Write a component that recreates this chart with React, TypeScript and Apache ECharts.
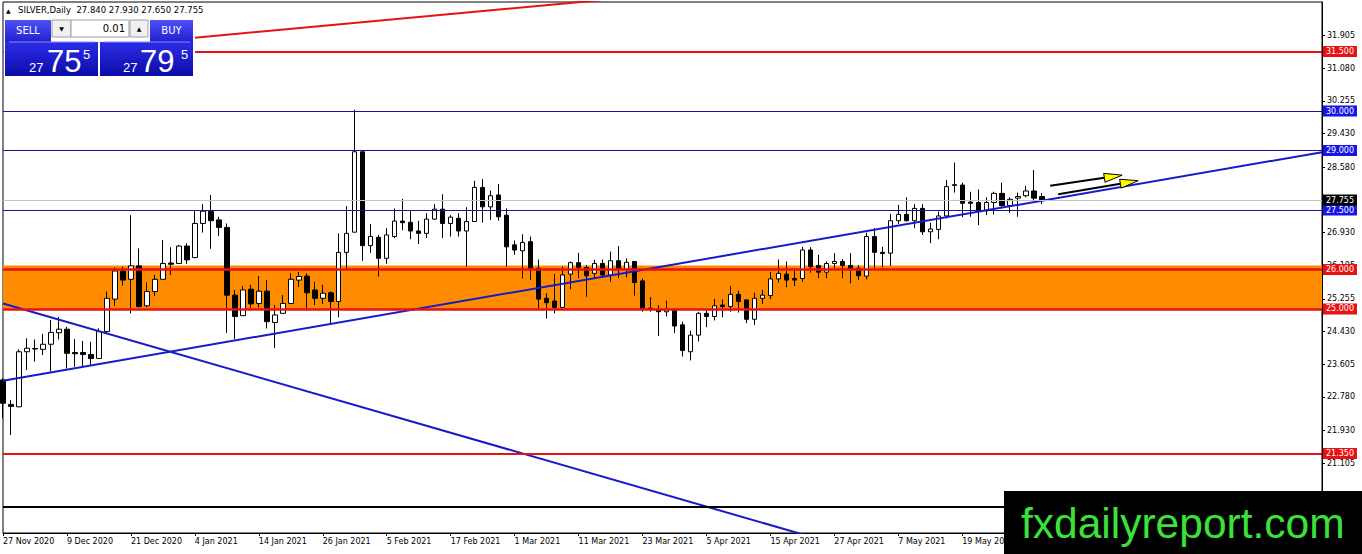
import React, { useEffect, useRef } from "react";
import * as echarts from "echarts";

// ---------- DATA ----------
// Date labels every 8 bars (later labels are hidden behind the watermark in the reference)
const xTickLabels = [
  "27 Nov 2020", "9 Dec 2020", "21 Dec 2020", "4 Jan 2021", "14 Jan 2021", "26 Jan 2021",
  "5 Feb 2021", "17 Feb 2021", "1 Mar 2021", "11 Mar 2021", "23 Mar 2021", "5 Apr 2021",
  "15 Apr 2021", "27 Apr 2021", "7 May 2021", "19 May 2021",
];
const barsPerTick = 8;
const slotCount = 166; // bars + empty right shift

const opens = [
  23.21, 22.59, 22.53, 23.92, 24.0, 23.98, 24.11, 24.4, 24.49, 23.9,
  23.9, 23.85, 23.75, 24.43, 25.25, 25.96, 25.75, 26.09, 25.08, 25.44,
  25.75, 26.16, 26.15, 26.59, 26.3, 27.16, 27.47, 27.25, 27.06, 25.35,
  24.83, 25.5, 25.14, 25.45, 24.66, 24.89, 25.14, 25.73, 25.83, 25.48,
  25.27, 25.41, 25.19, 26.43, 26.94, 28.97, 26.6, 26.81, 26.28, 26.83,
  27.22, 27.19, 26.97, 26.91, 27.27, 27.52, 27.16, 27.29, 26.97, 27.21,
  28.07, 27.58, 27.88, 27.37, 26.62, 26.47, 26.7, 26.03, 25.27, 25.2,
  25.04, 25.88, 26.17, 26.05, 25.9, 26.15, 25.86, 26.22, 26.0, 26.2,
  25.71, 25.02, 24.98, 24.93, 24.97, 24.6, 23.92, 24.34, 24.89, 24.81,
  25.1, 25.06, 25.37, 25.23, 24.74, 25.27, 25.34, 25.76, 25.88, 25.77,
  25.77, 26.49, 26.1, 25.93, 26.15, 26.2, 26.1, 26.03, 25.83, 26.83,
  26.43, 26.41, 27.23, 27.39, 27.23, 27.54, 26.95, 27.01, 27.35, 28.12,
  28.13, 27.7, 27.69, 27.48, 27.69, 27.92, 27.61, 27.8, 27.86, 27.98,
  27.84,
];
const closes = [
  22.62, 22.54, 23.92, 24.01, 23.99, 24.11, 24.41, 24.49, 23.88, 23.87,
  23.85, 23.75, 24.43, 25.27, 25.96, 25.73, 26.09, 25.06, 25.44, 25.75,
  26.15, 26.13, 26.59, 26.24, 27.16, 27.47, 27.23, 27.06, 25.35, 24.81,
  25.48, 25.13, 25.45, 24.68, 24.85, 25.14, 25.75, 25.82, 25.41, 25.27,
  25.4, 25.19, 26.43, 26.91, 28.97, 26.6, 26.83, 26.28, 26.87, 27.22,
  27.18, 26.97, 26.91, 27.27, 27.52, 27.16, 27.32, 26.97, 27.21, 28.07,
  27.58, 27.86, 27.33, 26.57, 26.49, 26.68, 26.03, 25.25, 25.16, 25.04,
  25.86, 26.17, 26.05, 25.84, 26.15, 25.86, 26.22, 26.01, 26.18, 25.67,
  25.02, 25.01, 24.93, 24.99, 24.57, 23.95, 24.34, 24.89, 24.81, 25.08,
  25.06, 25.37, 25.19, 24.74, 25.27, 25.35, 25.76, 25.9, 25.73, 25.73,
  26.49, 26.07, 25.93, 26.15, 26.2, 26.1, 26.01, 25.84, 26.83, 26.43,
  26.4, 27.23, 27.39, 27.23, 27.54, 26.95, 27.02, 27.35, 28.09, 28.14,
  27.67, 27.67, 27.48, 27.69, 27.92, 27.61, 27.77, 27.84, 27.98, 27.8,
  27.755,
];
const lows = [
  22.24, 21.82, 22.52, 23.46, 23.67, 23.84, 23.42, 24.23, 23.5, 23.54,
  23.54, 23.59, 23.75, 24.37, 25.08, 25.59, 24.89, 25.04, 25.04, 25.33,
  25.75, 25.86, 26.14, 26.14, 26.28, 26.93, 26.52, 26.84, 24.4, 24.24,
  24.83, 25.02, 25.04, 24.51, 24.01, 24.89, 25.13, 25.56, 24.96, 25.1,
  25.13, 24.64, 24.79, 25.99, 26.94, 26.22, 26.42, 25.82, 26.14, 26.79,
  26.99, 26.76, 26.64, 26.79, 27.25, 26.79, 26.83, 26.83, 26.07, 27.21,
  27.18, 27.25, 27.23, 26.07, 26.37, 25.77, 25.73, 25.02, 24.76, 24.89,
  24.97, 25.5, 25.78, 25.31, 25.78, 25.79, 25.69, 25.78, 25.8, 25.34,
  24.93, 24.93, 24.32, 24.81, 24.39, 23.8, 23.7, 24.18, 24.54, 24.71,
  24.79, 24.93, 24.91, 24.64, 24.6, 25.13, 25.25, 25.67, 25.55, 25.58,
  25.69, 25.92, 25.78, 25.78, 26.03, 25.78, 25.65, 25.73, 25.75, 26.04,
  26.05, 26.09, 27.15, 27.21, 27.04, 26.87, 26.66, 26.76, 27.29, 27.94,
  27.32, 27.33, 27.12, 27.37, 27.39, 27.54, 27.43, 27.33, 27.82, 27.75,
  27.65,
];
const highs = [
  23.25, 22.7, 23.98, 24.26, 24.23, 24.37, 24.72, 24.8, 24.55, 24.24,
  24.19, 24.17, 24.51, 25.44, 26.05, 26.07, 27.37, 26.53, 25.67, 25.86,
  26.74, 26.56, 26.62, 26.66, 27.5, 27.65, 27.88, 27.33, 27.16, 25.48,
  25.58, 25.61, 25.83, 25.73, 25.1, 25.35, 25.9, 25.94, 25.9, 25.69,
  25.61, 25.44, 26.91, 27.6, 30.03, 28.97, 27.15, 26.87, 27.04, 27.54,
  27.78, 27.48, 27.23, 27.42, 27.65, 27.9, 27.37, 27.42, 27.57, 28.24,
  28.28, 27.99, 28.16, 27.54, 26.73, 26.89, 26.83, 26.25, 25.4, 25.88,
  26.07, 26.2, 26.42, 26.11, 26.24, 26.25, 26.45, 26.59, 26.28, 26.21,
  25.77, 25.3, 25.1, 25.21, 25.02, 24.68, 24.45, 24.93, 24.98, 25.25,
  25.24, 25.58, 25.46, 25.24, 25.41, 25.48, 25.94, 26.25, 26.2, 26.03,
  26.57, 26.56, 26.37, 26.2, 26.41, 26.26, 26.41, 26.11, 26.93, 27.04,
  26.57, 27.4, 27.63, 27.82, 27.65, 27.65, 27.18, 27.46, 28.26, 28.7,
  28.19, 27.96, 28.02, 27.82, 27.96, 28.19, 27.82, 27.94, 28.11, 28.51,
  27.93,
];

const yTickValues = [
  31.905, 31.08, 30.255, 29.43, 28.58, 27.755, 26.93, 26.105, 25.255, 24.43,
  23.605, 22.78, 21.93, 21.105,
];
const yMin = 19.343;
const yMax = 32.753;

const levelPrices = [31.5, 30.0, 29.0, 27.5, 26.0, 25.0, 21.35, 20.0];
const levelKinds = ["red", "blue", "blue", "blue", "redThick", "redThick", "red", "black"];
const bidPrice = 27.755;
const zoneLow = 25.0;
const zoneHigh = 26.1;

const ascTrendBars = [0, 165];
const ascTrendPrices = [23.19, 28.96];
const descTrendBars = [0, 165];
const descTrendPrices = [25.14, 15.52];
const redTrendBars = [24, 165];
const redTrendPrices = [31.851, 34.484];

const arrowFromBars = [131, 132];
const arrowFromPrices = [28.11, 27.9];
const arrowToBars = [140, 142];
const arrowToPrices = [28.38, 28.24];

const titleText = "SILVER,Daily  27.840 27.930 27.650 27.755";
const sellBig = ["27", "75", "5"];
const buyBig = ["27", "79", "5"];
const lotText = "0.01";
const watermark = "fxdailyreport.com";

// ---------- STYLES ----------
const FONT = "DejaVu Sans";
const RED = "#e81212";
const kindStyle: Record<string, any> = {
  red: { color: RED, width: 2, box: RED },
  redThick: { color: RED, width: 2.5, box: RED },
  blue: { color: "#14149e", width: 1, box: "#1515e6" },
  black: { color: "#000000", width: 2, box: null },
};

export default function App() {
  const ref = useRef<HTMLDivElement>(null);

  useEffect(() => {
    if (!ref.current) return;
    const chart = echarts.init(ref.current, undefined, { renderer: "svg" });

    const slots = Array.from({ length: slotCount }, (_, i) => String(i));
    const candleData = opens.map((o, i) => [o, closes[i], lows[i], highs[i]]);

    const boxLabel = (text: string, bg: string) => ({
      show: true,
      position: "end",
      distance: 1,
      formatter: text,
      color: "#fff",
      backgroundColor: bg,
      padding: [1, 3, 1, 3],
      fontSize: 8,
      lineHeight: 9,
      fontFamily: FONT,
    });

    const markLineData: any[] = levelPrices.map((p, i) => {
      const st = kindStyle[levelKinds[i]];
      return {
        yAxis: p,
        lineStyle: { color: st.color, width: st.width, type: "solid" },
        label: st.box ? boxLabel(p.toFixed(3), st.box) : { show: false },
      };
    });
    markLineData.push({
      yAxis: bidPrice,
      lineStyle: { color: "#c4c4c4", width: 1, type: "solid" },
      label: boxLabel(bidPrice.toFixed(3), "#000"),
    });

    const trend = (bars: number[], prices: number[], color: string, width: number) => ({
      type: "line",
      data: bars.map((b, i) => [b, prices[i]]),
      symbol: "none",
      showSymbol: false,
      lineStyle: { color, width },
      clip: true,
      silent: true,
      z: 3,
      animation: false,
    });

    const arrowData = arrowFromBars.map((b, i) => [b, arrowFromPrices[i], arrowToBars[i], arrowToPrices[i]]);

    const btnGrad = new echarts.graphic.LinearGradient(0, 0, 0, 1, [
      { offset: 0, color: "#5050f8" },
      { offset: 1, color: "#2020d0" },
    ]);
    const boxGrad = new echarts.graphic.LinearGradient(0, 0, 0, 1, [
      { offset: 0, color: "#2c2ce8" },
      { offset: 1, color: "#0c0ca8" },
    ]);

    const txt = (x: number, y: number, text: string, size: number, fill: string, align = "left", family = FONT) => ({
      type: "text",
      x,
      y,
      z: 100,
      silent: true,
      style: { text, fill, fontSize: size, fontFamily: family, align, verticalAlign: "middle" },
    });
    const rect = (x: number, y: number, w: number, h: number, style: any) => ({
      type: "rect",
      z: 100,
      silent: true,
      shape: { x, y, width: w, height: h },
      style,
    });

    const graphic: any[] = [
      rect(4, 16, 191, 62, { fill: "#fff" }),
      txt(6, 10, "▲", 6, "#000"),
      txt(18, 10, titleText, 8.5, "#000"),
      rect(5, 20, 46, 22, { fill: btnGrad }),
      txt(28, 30.5, "SELL", 10, "#fff", "center"),
      rect(52, 20, 19, 17, { fill: "#f0f0f0", stroke: "#a0a0a0", lineWidth: 1 }),
      txt(61.5, 28.5, "▼", 6, "#000", "center"),
      rect(71, 20, 58, 17, { fill: "#fff", stroke: "#a0a0a0", lineWidth: 1 }),
      txt(125, 28.5, lotText, 10, "#000", "right"),
      rect(130, 20, 18, 17, { fill: "#f0f0f0", stroke: "#a0a0a0", lineWidth: 1 }),
      txt(139, 28.5, "▲", 6, "#000", "center"),
      rect(150, 20, 43, 22, { fill: btnGrad }),
      txt(171.5, 30.5, "BUY", 10, "#fff", "center"),
      rect(5, 42, 93, 34, { fill: boxGrad }),
      rect(100, 42, 93, 34, { fill: boxGrad }),
      { type: "line", z: 101, silent: true, shape: { x1: 9, y1: 42, x2: 95, y2: 42 }, style: { stroke: "#8a8af2", lineWidth: 1 } },
      { type: "line", z: 101, silent: true, shape: { x1: 104, y1: 42, x2: 190, y2: 42 }, style: { stroke: "#8a8af2", lineWidth: 1 } },
      txt(29, 67, sellBig[0], 13, "#fff", "left", "Liberation Sans"),
      txt(47, 61, sellBig[1], 31, "#fff", "left", "Liberation Sans"),
      txt(83, 54, sellBig[2], 13, "#fff", "left", "Liberation Sans"),
      txt(123, 67, buyBig[0], 13, "#fff", "left", "Liberation Sans"),
      txt(140, 61, buyBig[1], 31, "#fff", "left", "Liberation Sans"),
      txt(181, 54, buyBig[2], 13, "#fff", "left", "Liberation Sans"),
      rect(1004, 491, 358, 63, { fill: "#000" }),
      txt(1021, 523, watermark, 42.5, "#3ae23a", "left", "Liberation Sans"),
    ];

    const option: any = {
      animation: false,
      backgroundColor: "#fff",
      grid: {
        left: 3,
        right: 40,
        top: 2,
        bottom: 21,
        show: true,
        borderColor: "#000",
        borderWidth: 1,
        backgroundColor: "#fff",
        containLabel: false,
        outerBoundsMode: "none",
      },
      xAxis: {
        type: "category",
        data: slots,
        boundaryGap: false,
        axisLine: { show: true, lineStyle: { color: "#000", width: 1 } },
        axisTick: { show: true, interval: barsPerTick - 1, length: 3, lineStyle: { color: "#000" } },
        axisLabel: {
          interval: barsPerTick - 1,
          align: "left",
          margin: 4,
          color: "#000",
          fontSize: 8,
          fontFamily: FONT,
          formatter: (_v: string, idx: number) => xTickLabels[Math.round(idx / barsPerTick)] ?? "",
        },
        splitLine: { show: false },
      },
      yAxis: {
        type: "value",
        position: "right",
        min: yMin,
        max: yMax,
        scale: true,
        splitLine: { show: false },
        axisLine: { show: true, onZero: false, lineStyle: { color: "#000", width: 1 } },
        axisTick: { show: true, length: 3, customValues: yTickValues, lineStyle: { color: "#000" } },
        axisLabel: {
          customValues: yTickValues,
          formatter: (v: number) => v.toFixed(3),
          color: "#000",
          fontSize: 8,
          fontFamily: FONT,
          margin: 5,
        },
      },
      series: [
        {
          type: "candlestick",
          data: candleData,
          barWidth: 5,
          clip: true,
          silent: true,
          z: 2,
          itemStyle: {
            color: "#ffffff",
            color0: "#000000",
            borderColor: "#000000",
            borderColor0: "#000000",
            borderColorDoji: "#000000",
            borderWidth: 1,
          },
          markArea: {
            silent: true,
            itemStyle: { color: "#ff8c00", opacity: 1, borderWidth: 0 },
            data: [[{ yAxis: zoneLow }, { yAxis: zoneHigh }]],
          },
          markLine: {
            silent: true,
            symbol: ["none", "none"],
            animation: false,
            data: markLineData,
          },
        },
        trend(ascTrendBars, ascTrendPrices, "#1818cc", 2),
        trend(descTrendBars, descTrendPrices, "#1818cc", 2),
        trend(redTrendBars, redTrendPrices, RED, 2),
        {
          type: "custom",
          data: arrowData,
          encode: { x: [0, 2], y: [1, 3] },
          z: 4,
          silent: true,
          clip: false,
          renderItem: (_params: any, api: any) => {
            const p0 = api.coord([api.value(0), api.value(1)]);
            const p1 = api.coord([api.value(2), api.value(3)]);
            const dx = p1[0] - p0[0];
            const dy = p1[1] - p0[1];
            const len = Math.sqrt(dx * dx + dy * dy) || 1;
            const ux = dx / len;
            const uy = dy / len;
            const headLen = 18;
            const headW = 4.5;
            const bx = p1[0] - ux * headLen;
            const by = p1[1] - uy * headLen;
            return {
              type: "group",
              children: [
                {
                  type: "line",
                  shape: { x1: p0[0], y1: p0[1], x2: bx, y2: by },
                  style: { stroke: "#000", lineWidth: 2 },
                },
                {
                  type: "polygon",
                  shape: {
                    points: [
                      [p1[0], p1[1]],
                      [bx - uy * headW, by + ux * headW],
                      [bx + uy * headW, by - ux * headW],
                    ],
                  },
                  style: { fill: "#ffff00", stroke: "#000", lineWidth: 1 },
                },
              ],
            };
          },
        },
      ],
      graphic,
    };

    chart.setOption(option);
    return () => chart.dispose();
  }, []);

  return (
    <div
      ref={ref}
      style={{ position: "fixed", left: 0, top: 0, width: 1362, height: 554, background: "#fff" }}
    />
  );
}
